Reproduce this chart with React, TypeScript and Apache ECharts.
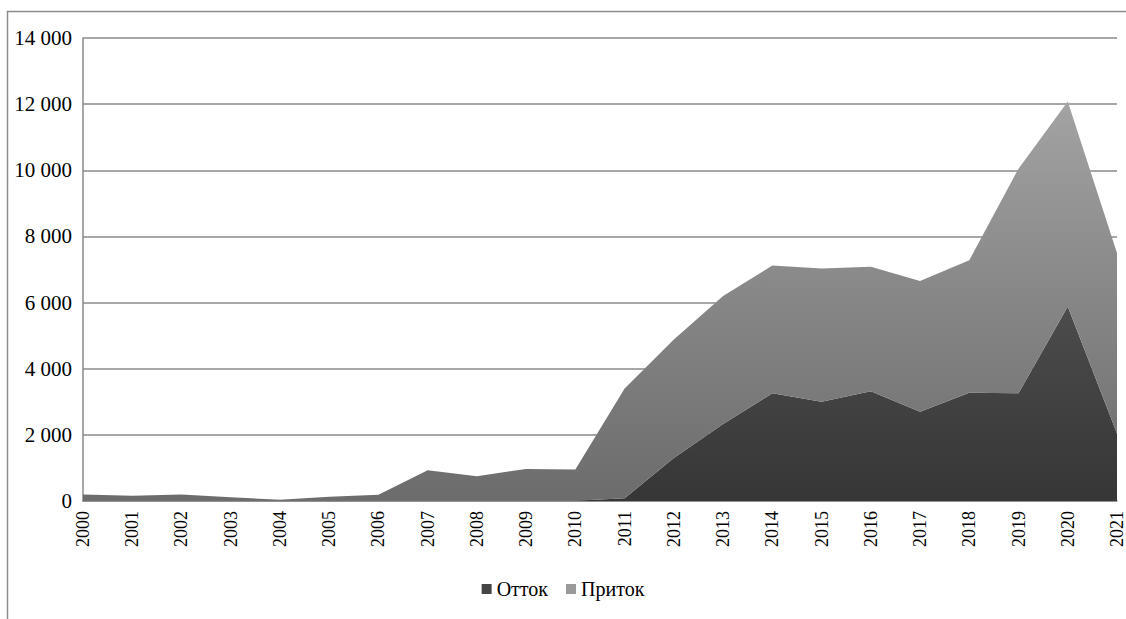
import React, { useEffect, useRef } from "react";
import * as echarts from "echarts";

const years = [
  "2000", "2001", "2002", "2003", "2004", "2005", "2006", "2007", "2008", "2009", "2010",
  "2011", "2012", "2013", "2014", "2015", "2016", "2017", "2018", "2019", "2020", "2021",
];
// Отток (bottom layer)
const outflow = [10, 10, 10, 10, 5, 10, 10, 10, 10, 10, 10, 80, 1300, 2330, 3260, 3000, 3320, 2700, 3270, 3260, 5880, 2040];
// Приток (stacked on top)
const inflow = [190, 150, 190, 100, 35, 120, 180, 920, 740, 960, 940, 3320, 3580, 3870, 3860, 4030, 3760, 3950, 4010, 6790, 6200, 5460];
const yTicks = { min: 0, max: 14000, interval: 2000 };
const seriesNames = ["Отток", "Приток"];

const FONT = "Liberation Serif";

export default function App() {
  const ref = useRef<HTMLDivElement>(null);
  useEffect(() => {
    if (!ref.current) return;
    const chart = echarts.init(ref.current, undefined, { renderer: "svg" });
    chart.setOption({
      animation: false,
      backgroundColor: "#ffffff",
      textStyle: { fontFamily: FONT },
      graphic: [
        {
          type: "rect",
          shape: { x: 7.5, y: 11.5, width: 1300, height: 800 },
          style: { fill: "none", stroke: "#8c8c8c", lineWidth: 1.5 },
          silent: true,
          z: 100,
        },
      ],
      grid: { left: 83, right: 5, top: 38, bottom: 118, containLabel: false },
      legend: {
        left: "center",
        top: 574,
        itemWidth: 10,
        itemHeight: 10,
        itemGap: 18,
        icon: "rect",
        textStyle: { fontFamily: FONT, fontSize: 20, color: "#000" },
        data: seriesNames,
      },
      xAxis: {
        type: "category",
        data: years,
        boundaryGap: false,
        axisLine: { lineStyle: { color: "#8a8a8a", width: 1.5 } },
        axisTick: { show: false },
        axisLabel: {
          rotate: 90,
          margin: 10,
          interval: 0,
          color: "#000",
          fontFamily: FONT,
          fontSize: 18,
        },
      },
      yAxis: {
        type: "value",
        min: yTicks.min,
        max: yTicks.max,
        interval: yTicks.interval,
        axisLine: { show: true, lineStyle: { color: "#8a8a8a", width: 1.5 } },
        axisTick: { show: false },
        splitLine: { lineStyle: { color: "#8a8a8a", width: 1.5 } },
        axisLabel: {
          margin: 11,
          color: "#000",
          fontFamily: FONT,
          fontSize: 21,
          formatter: (v: number) => String(v).replace(/\B(?=(\d{3})+(?!\d))/g, " "),
        },
      },
      series: [
        {
          name: seriesNames[0],
          type: "line",
          stack: "total",
          data: outflow,
          symbol: "none",
          lineStyle: { width: 0 },
          itemStyle: { color: "#454545" },
          areaStyle: {
            opacity: 1,
            color: new echarts.graphic.LinearGradient(0, 0, 0, 1, [
              { offset: 0, color: "#4c4c4c" },
              { offset: 1, color: "#363636" },
            ]),
          },
        },
        {
          name: seriesNames[1],
          type: "line",
          stack: "total",
          data: inflow,
          symbol: "none",
          lineStyle: { width: 0 },
          itemStyle: { color: "#9a9a9a" },
          areaStyle: {
            opacity: 1,
            color: new echarts.graphic.LinearGradient(0, 0, 0, 1, [
              { offset: 0, color: "#a3a3a3" },
              { offset: 0.5, color: "#868686" },
              { offset: 1, color: "#6c6c6c" },
            ]),
          },
        },
      ],
    });
    return () => chart.dispose();
  }, []);
  return (
    <div
      ref={ref}
      style={{ position: "fixed", left: 0, top: 0, width: 1126, height: 619, background: "#fff" }}
    />
  );
}
